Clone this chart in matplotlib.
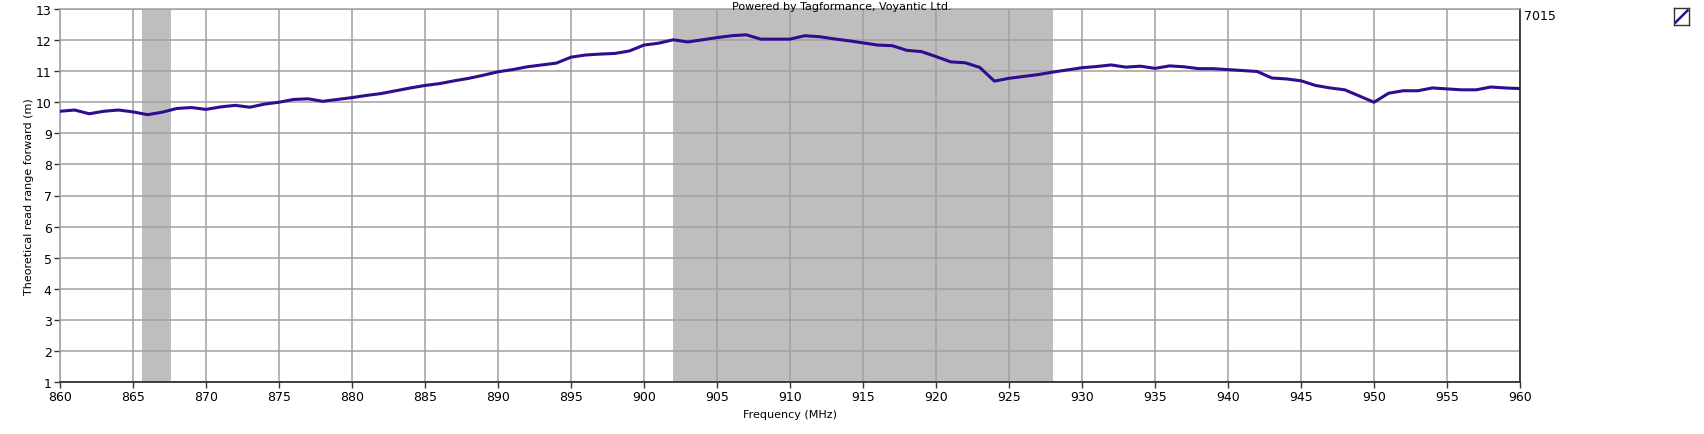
import matplotlib
matplotlib.use('Agg')
import matplotlib.pyplot as plt
from matplotlib.lines import Line2D
import numpy as np

# frequency (MHz) and read range (m) for tag 7015
freq = list(range(860, 961))
rng = [9.71, 9.75, 9.63, 9.71, 9.75, 9.69, 9.60, 9.68, 9.80, 9.83,
       9.77, 9.85, 9.90, 9.84, 9.94, 10.00, 10.09, 10.11, 10.03, 10.09,
       10.15, 10.22, 10.28, 10.37, 10.46, 10.54, 10.60, 10.69, 10.77, 10.87,
       10.98, 11.05, 11.14, 11.20, 11.26, 11.45, 11.52, 11.55, 11.57, 11.65,
       11.84, 11.90, 12.01, 11.94, 12.01, 12.08, 12.14, 12.17, 12.03, 12.03,
       12.03, 12.14, 12.11, 12.04, 11.98, 11.91, 11.84, 11.82, 11.67, 11.63,
       11.47, 11.30, 11.27, 11.12, 10.68, 10.77, 10.83, 10.89, 10.97, 11.04,
       11.11, 11.15, 11.20, 11.13, 11.16, 11.09, 11.17, 11.14, 11.08, 11.08,
       11.05, 11.02, 10.99, 10.78, 10.75, 10.69, 10.54, 10.46, 10.40, 10.20,
       10.00, 10.29, 10.37, 10.37, 10.46, 10.43, 10.40, 10.40, 10.49, 10.46,
       10.44]
bands = [(865.6, 867.6), (902, 928)]
series_name = '7015'

line_col = '#2f0d8e'

fig = plt.figure(figsize=(17.04, 4.35), dpi=100)
ax = fig.add_axes([60/1704, 52/435, 1460/1704, 373/435])

for b0, b1 in bands:
    ax.axvspan(b0, b1, color='#bebebe', lw=0, zorder=0)

ax.plot(freq, rng, color=line_col, lw=2.2, zorder=3)

ax.set_xlim(860, 960)
ax.set_ylim(1, 13)
ax.set_xticks(np.arange(860, 961, 5))
ax.set_yticks(np.arange(1, 14, 1))
ax.grid(True, color='#a0a0a0', lw=1.1, zorder=1)
ax.set_axisbelow(True)

for s in ['top', 'left']:
    ax.spines[s].set_color('#a0a0a0')
    ax.spines[s].set_linewidth(1.1)
for s in ['bottom', 'right']:
    ax.spines[s].set_color('#333333')
    ax.spines[s].set_linewidth(1.3)

ax.tick_params(axis='both', direction='out', length=4, width=1, color='#333333',
               labelsize=9, pad=2)
ax.set_xlabel('Frequency (MHz)', fontsize=8, labelpad=4)
ax.set_ylabel('Theoretical read range forward (m)', fontsize=8, labelpad=1)

fig.text(842/1704, 1 - 7.5/435, 'Powered by Tagformance, Voyantic Ltd.',
         ha='center', va='center', fontsize=8)

# legend area at right
fig.text(1524/1704, 1 - 17/435, series_name, ha='left', va='center', fontsize=9)
lax = fig.add_axes([1674/1704, 1 - 26/435, 15/1704, 17/435])
lax.set_xlim(0, 1)
lax.set_ylim(0, 1)
lax.add_line(Line2D([0.1, 0.9], [0.15, 0.85], color=line_col, lw=1.8))
lax.set_xticks([])
lax.set_yticks([])
for s in lax.spines.values():
    s.set_color('#333333')
    s.set_linewidth(1)

fig.savefig('out.png', dpi=100)
